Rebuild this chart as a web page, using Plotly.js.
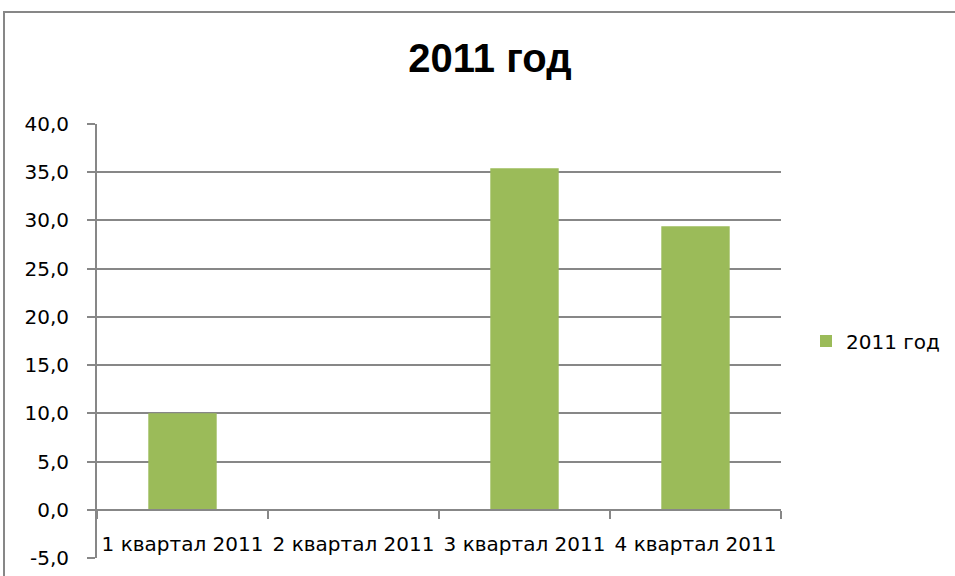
<!DOCTYPE html>
<html>
<head>
<meta charset="utf-8">
<script src="https://cdn.plot.ly/plotly-3.0.1.min.js"></script>
<style>
html,body{margin:0;padding:0;background:#fff;}
#chart{width:955px;height:576px;}
</style>
</head>
<body>
<div id="chart"></div>
<script>
const categories = ["1 квартал 2011", "2 квартал 2011", "3 квартал 2011", "4 квартал 2011"];
const values2011 = [10.0, 0.0, 35.4, 29.4];
const seriesName = "2011 год";
const chartTitle = "2011 год";
const yTickVals = [-5, 0, 5, 10, 15, 20, 25, 30, 35, 40];
const yTickText = ["-5,0", "0,0", "5,0", "10,0", "15,0", "20,0", "25,0", "30,0", "35,0", "40,0"];

const gridColor = "#878787";
const font = "DejaVu Sans, sans-serif";

const trace = {
  type: "bar",
  x: categories,
  y: values2011,
  name: seriesName,
  marker: {color: "#9BBB59", line: {width: 0}},
  showlegend: true,
  hoverinfo: "skip"
};

const layout = {
  width: 955, height: 576,
  margin: {l: 97, r: 174, t: 124, b: 18, pad: 0, autoexpand: false},
  paper_bgcolor: "#fff", plot_bgcolor: "#fff",
  font: {family: font, size: 20, color: "#000"},
  title: {
    text: chartTitle,
    font: {family: "Liberation Sans, Arial, sans-serif", size: 40, weight: "bold", color: "#000"},
    xref: "container", yref: "container",
    x: 490/955, xanchor: "center",
    y: 1 - 58/576, yanchor: "middle"
  },
  bargap: 0.6,
  xaxis: {
    type: "category",
    range: [-0.5, 3.5],
    anchor: "free",
    position: 5/45,
    tickson: "boundaries",
    ticks: "outside",
    ticklen: 8,
    tickwidth: 2,
    tickcolor: gridColor,
    tickangle: 0,
    automargin: false,
    showline: true,
    linecolor: gridColor,
    linewidth: 2,
    showgrid: false,
    zeroline: false,
    ticklabelstandoff: 16,
    tickfont: {family: font, size: 20, color: "#000"},
    fixedrange: true
  },
  yaxis: {
    range: [-5, 40],
    tickmode: "array",
    tickvals: yTickVals,
    ticktext: yTickText,
    ticks: "outside",
    ticklen: 8,
    tickwidth: 2,
    tickcolor: gridColor,
    automargin: false,
    showline: true,
    linecolor: gridColor,
    linewidth: 2,
    showgrid: true,
    gridcolor: gridColor,
    gridwidth: 2,
    zeroline: false,
    ticklabelstandoff: 14,
    tickfont: {family: font, size: 20, color: "#000"},
    fixedrange: true
  },
  legend: {
    x: (806 - 97)/684, xanchor: "left",
    y: (558 - 341)/434, yanchor: "middle",
    font: {family: font, size: 20, color: "#000"},
    bgcolor: "rgba(0,0,0,0)",
    itemwidth: 30
  },
  shapes: [{
    type: "rect", xref: "paper", yref: "paper",
    x0: (4 - 97)/684, x1: 1.4,
    y0: -0.3, y1: (558 - 12)/434,
    line: {color: gridColor, width: 2},
    layer: "below"
  }]
};

Plotly.newPlot("chart", [trace], layout, {displayModeBar: false, staticPlot: true});
</script>
</body>
</html>
